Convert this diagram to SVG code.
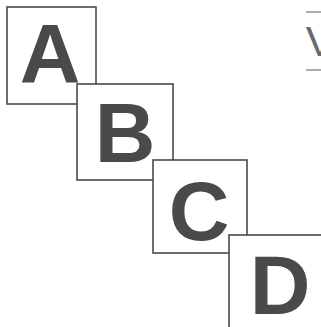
<svg xmlns="http://www.w3.org/2000/svg" width="321" height="327" viewBox="0 0 321 327">
<style>
.box{fill:#fff;stroke:#4a4a4a;stroke-width:1.6}
.lt{font-family:"Liberation Sans",Arial,sans-serif;font-weight:bold;font-size:84px;fill:#4a4a4a;text-anchor:middle}
.rule{stroke:#8a8a8a;stroke-width:1.4}
</style>
<rect width="321" height="327" fill="#fff"/>
<g id="V">
<line class="rule" x1="306" y1="12" x2="321" y2="12"/>
<line class="rule" x1="306" y1="70" x2="321" y2="70"/>
<text x="320" y="56" font-family="Liberation Sans,Arial,sans-serif" font-size="43" fill="#6a6a6a" text-anchor="middle">V</text>
</g>
<g id="A">
<rect class="box" x="7" y="7" width="89" height="97"/>
<text class="lt" x="50" y="83">A</text>
</g>
<g id="B">
<rect class="box" x="77" y="84" width="96" height="96"/>
<text class="lt" x="125" y="162">B</text>
</g>
<g id="C">
<rect class="box" x="153" y="160" width="94" height="93"/>
<text class="lt" x="199" y="240">C</text>
</g>
<g id="D">
<rect class="box" x="229" y="235" width="120" height="120"/>
<text class="lt" x="280" y="314">D</text>
</g>
</svg>
